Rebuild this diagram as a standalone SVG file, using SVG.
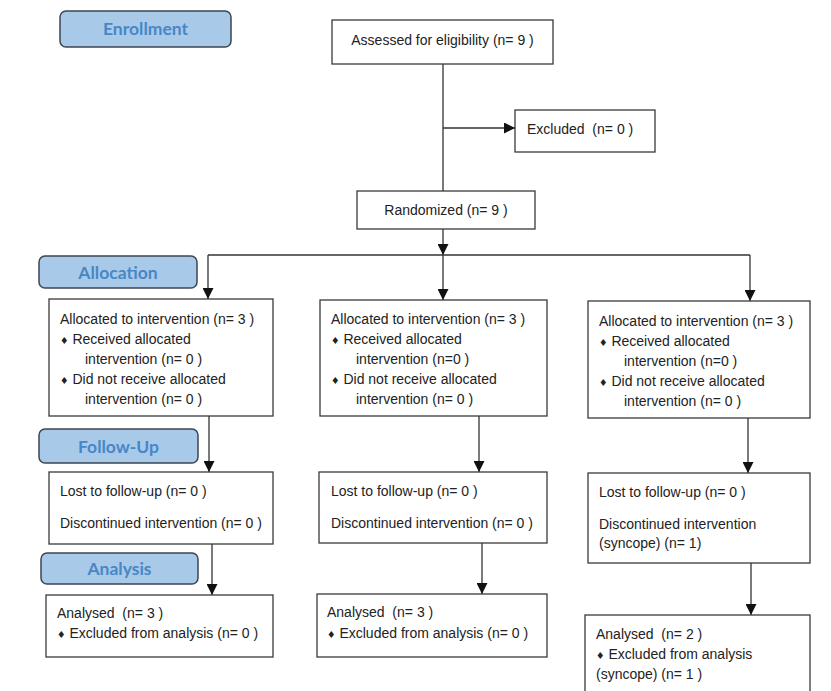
<svg xmlns="http://www.w3.org/2000/svg" width="831" height="691" viewBox="0 0 831 691">
<defs>
<marker id="arr" markerUnits="userSpaceOnUse" markerWidth="11" markerHeight="11" refX="10" refY="5" orient="auto" viewBox="0 0 10 10">
<path d="M0,0 L10,5 L0,10 z" fill="#111"/>
</marker>
<style>
.box{fill:#fff;stroke:#3a3a3a;stroke-width:1.3}
.lbl{fill:#a9c9e9;stroke:#3c4652;stroke-width:1.5}
.lt{font-family:Lato,"Open Sans",sans-serif;font-weight:bold;font-size:17.5px;fill:#4787c6;text-anchor:middle}
.t{font-family:"Liberation Sans",Arial,sans-serif;font-size:14px;fill:#222}
.b{font-family:"DejaVu Sans",sans-serif;font-size:9.5px}
.c{text-anchor:middle}
.ln{fill:none;stroke:#333;stroke-width:1.3}
</style>
</defs>
<rect width="831" height="691" fill="#fff"/>

<g id="label-enrollment"><rect class="lbl" x="60" y="11" width="171" height="36" rx="6"/><text class="lt" x="145.5" y="35">Enrollment</text></g>
<g id="label-allocation"><rect class="lbl" x="39" y="256" width="158" height="32" rx="6"/><text class="lt" x="118" y="278.5">Allocation</text></g>
<g id="label-followup"><rect class="lbl" x="39" y="429" width="159" height="34" rx="6"/><text class="lt" x="118.5" y="452.5">Follow-Up</text></g>
<g id="label-analysis"><rect class="lbl" x="41" y="553" width="157" height="31" rx="6"/><text class="lt" x="119.5" y="575">Analysis</text></g>

<g id="connectors">
<path class="ln" d="M443,64 V191"/>
<path class="ln" d="M443,128 H515" marker-end="url(#arr)"/>
<path class="ln" d="M443,229 V255" marker-end="url(#arr)"/>
<path class="ln" d="M208,255 H750"/>
<path class="ln" d="M208,255 V299" marker-end="url(#arr)"/>
<path class="ln" d="M443,255 V300" marker-end="url(#arr)"/>
<path class="ln" d="M750,255 V301" marker-end="url(#arr)"/>
<path class="ln" d="M209,416 V472" marker-end="url(#arr)"/>
<path class="ln" d="M479,416 V472" marker-end="url(#arr)"/>
<path class="ln" d="M748,418 V473" marker-end="url(#arr)"/>
<path class="ln" d="M212,544 V595" marker-end="url(#arr)"/>
<path class="ln" d="M482,543 V594" marker-end="url(#arr)"/>
<path class="ln" d="M751,563 V615" marker-end="url(#arr)"/>
</g>

<g id="assessed"><rect class="box" x="332" y="20" width="221" height="44"/><text class="t c" x="442.5" y="45">Assessed for eligibility (n= 9 )</text></g>
<g id="excluded"><rect class="box" x="515" y="110" width="140" height="42"/><text class="t" x="527" y="134" xml:space="preserve">Excluded  (n= 0 )</text></g>
<g id="randomized"><rect class="box" x="357" y="191" width="178" height="38"/><text class="t c" x="446" y="215">Randomized (n= 9 )</text></g>

<g id="alloc-1"><rect class="box" x="49" y="299" width="224" height="117"/>
<text class="t" x="60" y="324">Allocated to intervention (n= 3 )</text>
<text class="t" x="60" y="344"><tspan class="b">♦</tspan> Received allocated</text>
<text class="t" x="85" y="364">intervention (n= 0 )</text>
<text class="t" x="60" y="384"><tspan class="b">♦</tspan> Did not receive allocated</text>
<text class="t" x="85" y="404">intervention (n= 0 )</text></g>

<g id="alloc-2"><rect class="box" x="320" y="300" width="227" height="116"/>
<text class="t" x="331" y="324">Allocated to intervention (n= 3 )</text>
<text class="t" x="331" y="344"><tspan class="b">♦</tspan> Received allocated</text>
<text class="t" x="356" y="364">intervention (n=0 )</text>
<text class="t" x="331" y="384"><tspan class="b">♦</tspan> Did not receive allocated</text>
<text class="t" x="356" y="404">intervention (n= 0 )</text></g>

<g id="alloc-3"><rect class="box" x="588" y="301" width="222" height="117"/>
<text class="t" x="599" y="326">Allocated to intervention (n= 3 )</text>
<text class="t" x="599" y="346"><tspan class="b">♦</tspan> Received allocated</text>
<text class="t" x="624" y="366">intervention (n=0 )</text>
<text class="t" x="599" y="386"><tspan class="b">♦</tspan> Did not receive allocated</text>
<text class="t" x="624" y="406">intervention (n= 0 )</text></g>

<g id="follow-1"><rect class="box" x="49" y="472" width="224" height="72"/>
<text class="t" x="60" y="496">Lost to follow-up (n= 0 )</text>
<text class="t" x="60" y="528">Discontinued intervention (n= 0 )</text></g>

<g id="follow-2"><rect class="box" x="319" y="472" width="228" height="71"/>
<text class="t" x="331" y="496">Lost to follow-up (n= 0 )</text>
<text class="t" x="331" y="528">Discontinued intervention (n= 0 )</text></g>

<g id="follow-3"><rect class="box" x="588" y="473" width="222" height="90"/>
<text class="t" x="599" y="497">Lost to follow-up (n= 0 )</text>
<text class="t" x="599" y="529">Discontinued intervention</text>
<text class="t" x="599" y="548">(syncope) (n= 1)</text></g>

<g id="analysis-1"><rect class="box" x="46" y="595" width="227" height="62"/>
<text class="t" x="57" y="618" xml:space="preserve">Analysed  (n= 3 )</text>
<text class="t" x="57" y="638"><tspan class="b">♦</tspan> Excluded from analysis (n= 0 )</text></g>

<g id="analysis-2"><rect class="box" x="317" y="594" width="230" height="63"/>
<text class="t" x="327" y="617" xml:space="preserve">Analysed  (n= 3 )</text>
<text class="t" x="327" y="638"><tspan class="b">♦</tspan> Excluded from analysis (n= 0 )</text></g>

<g id="analysis-3"><rect class="box" x="585" y="615" width="225" height="90"/>
<text class="t" x="596" y="639" xml:space="preserve">Analysed  (n= 2 )</text>
<text class="t" x="596" y="659"><tspan class="b">♦</tspan> Excluded from analysis</text>
<text class="t" x="596" y="679">(syncope) (n= 1 )</text></g>
</svg>
